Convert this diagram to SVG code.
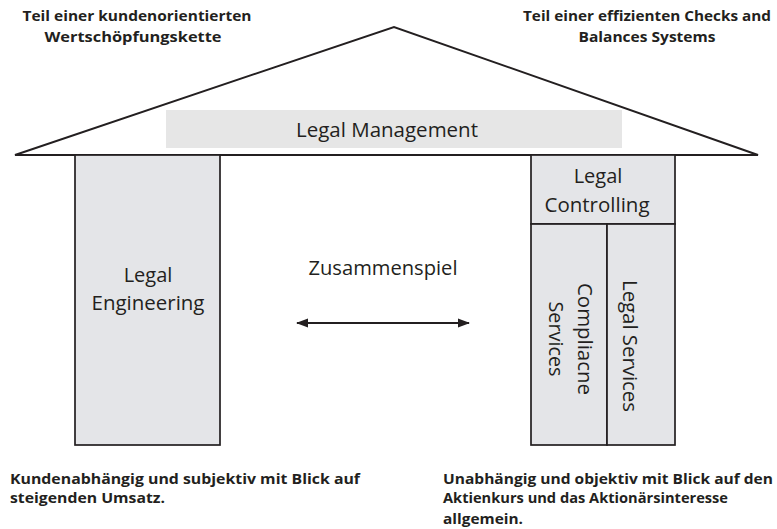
<svg xmlns="http://www.w3.org/2000/svg" width="777" height="529" viewBox="0 0 777 529">
<style>
.ln{fill:none;stroke:#231f20;stroke-width:1.9}
.box{fill:#e4e5e8;stroke:#231f20;stroke-width:1.7}
.t{font-family:"Open Sans","Noto Sans",sans-serif;font-size:20px;fill:#231f20}
.b{font-family:"Open Sans","Noto Sans",sans-serif;font-size:15px;font-weight:bold;fill:#231f20}
.c{text-anchor:middle}
</style>
<defs>
<marker id="ah" viewBox="0 0 12 10" refX="11" refY="5" markerWidth="12" markerHeight="10" markerUnits="userSpaceOnUse" orient="auto-start-reverse">
<path d="M0,0.5 L12,5 L0,9.5 Z" fill="#231f20"/>
</marker>
</defs>
<rect width="777" height="529" fill="#fff"/>
<g id="roof">
<path class="ln" d="M15,155 L394,27 L758,155 Z"/>
</g>
<g id="legal-management">
<rect x="166" y="110" width="456" height="38" fill="#e6e6e6"/>
<text class="t c" x="387" y="137" textLength="182" lengthAdjust="spacingAndGlyphs">Legal Management</text>
</g>
<g id="legal-engineering">
<rect class="box" x="75" y="155" width="145" height="290"/>
<text class="t c" x="148" y="282">Legal</text>
<text class="t c" x="148" y="310" textLength="113" lengthAdjust="spacingAndGlyphs">Engineering</text>
</g>
<g id="legal-controlling">
<rect class="box" x="531" y="155" width="144" height="69"/>
<text class="t c" x="598" y="183">Legal</text>
<text class="t c" x="597" y="212" textLength="105" lengthAdjust="spacingAndGlyphs">Controlling</text>
</g>
<g id="compliance-services">
<rect class="box" x="531" y="224" width="76" height="221"/>
<text class="t c" transform="translate(578,339) rotate(90)" x="0" y="0" textLength="112" lengthAdjust="spacingAndGlyphs">Compliacne</text>
<text class="t c" transform="translate(549,339) rotate(90)" x="0" y="0" textLength="75" lengthAdjust="spacingAndGlyphs">Services</text>
</g>
<g id="legal-services">
<rect class="box" x="607" y="224" width="68" height="221"/>
<text class="t c" transform="translate(623,346) rotate(90)" x="0" y="0" textLength="132" lengthAdjust="spacingAndGlyphs">Legal Services</text>
</g>
<g id="connectors">
<line class="ln" x1="297" y1="323" x2="469" y2="323" marker-start="url(#ah)" marker-end="url(#ah)"/>
<text class="t c" x="383" y="275" textLength="149" lengthAdjust="spacingAndGlyphs">Zusammenspiel</text>
</g>
<g id="labels">
<text class="b c" x="137" y="21" textLength="229" lengthAdjust="spacingAndGlyphs">Teil einer kundenorientierten</text>
<text class="b c" x="133" y="42" textLength="177" lengthAdjust="spacingAndGlyphs">Wertschöpfungskette</text>
<text class="b c" x="647" y="21" textLength="248" lengthAdjust="spacingAndGlyphs">Teil einer effizienten Checks and</text>
<text class="b c" x="647" y="42" textLength="137" lengthAdjust="spacingAndGlyphs">Balances Systems</text>
<text class="b" x="10" y="484" textLength="350" lengthAdjust="spacingAndGlyphs">Kundenabhängig und subjektiv mit Blick auf</text>
<text class="b" x="10" y="503" textLength="155" lengthAdjust="spacingAndGlyphs">steigenden Umsatz.</text>
<text class="b" x="443" y="484" textLength="330" lengthAdjust="spacingAndGlyphs">Unabhängig und objektiv mit Blick auf den</text>
<text class="b" x="443" y="503" textLength="285" lengthAdjust="spacingAndGlyphs">Aktienkurs und das Aktionärsinteresse</text>
<text class="b" x="443" y="524" textLength="80" lengthAdjust="spacingAndGlyphs">allgemein.</text>
</g>
</svg>
